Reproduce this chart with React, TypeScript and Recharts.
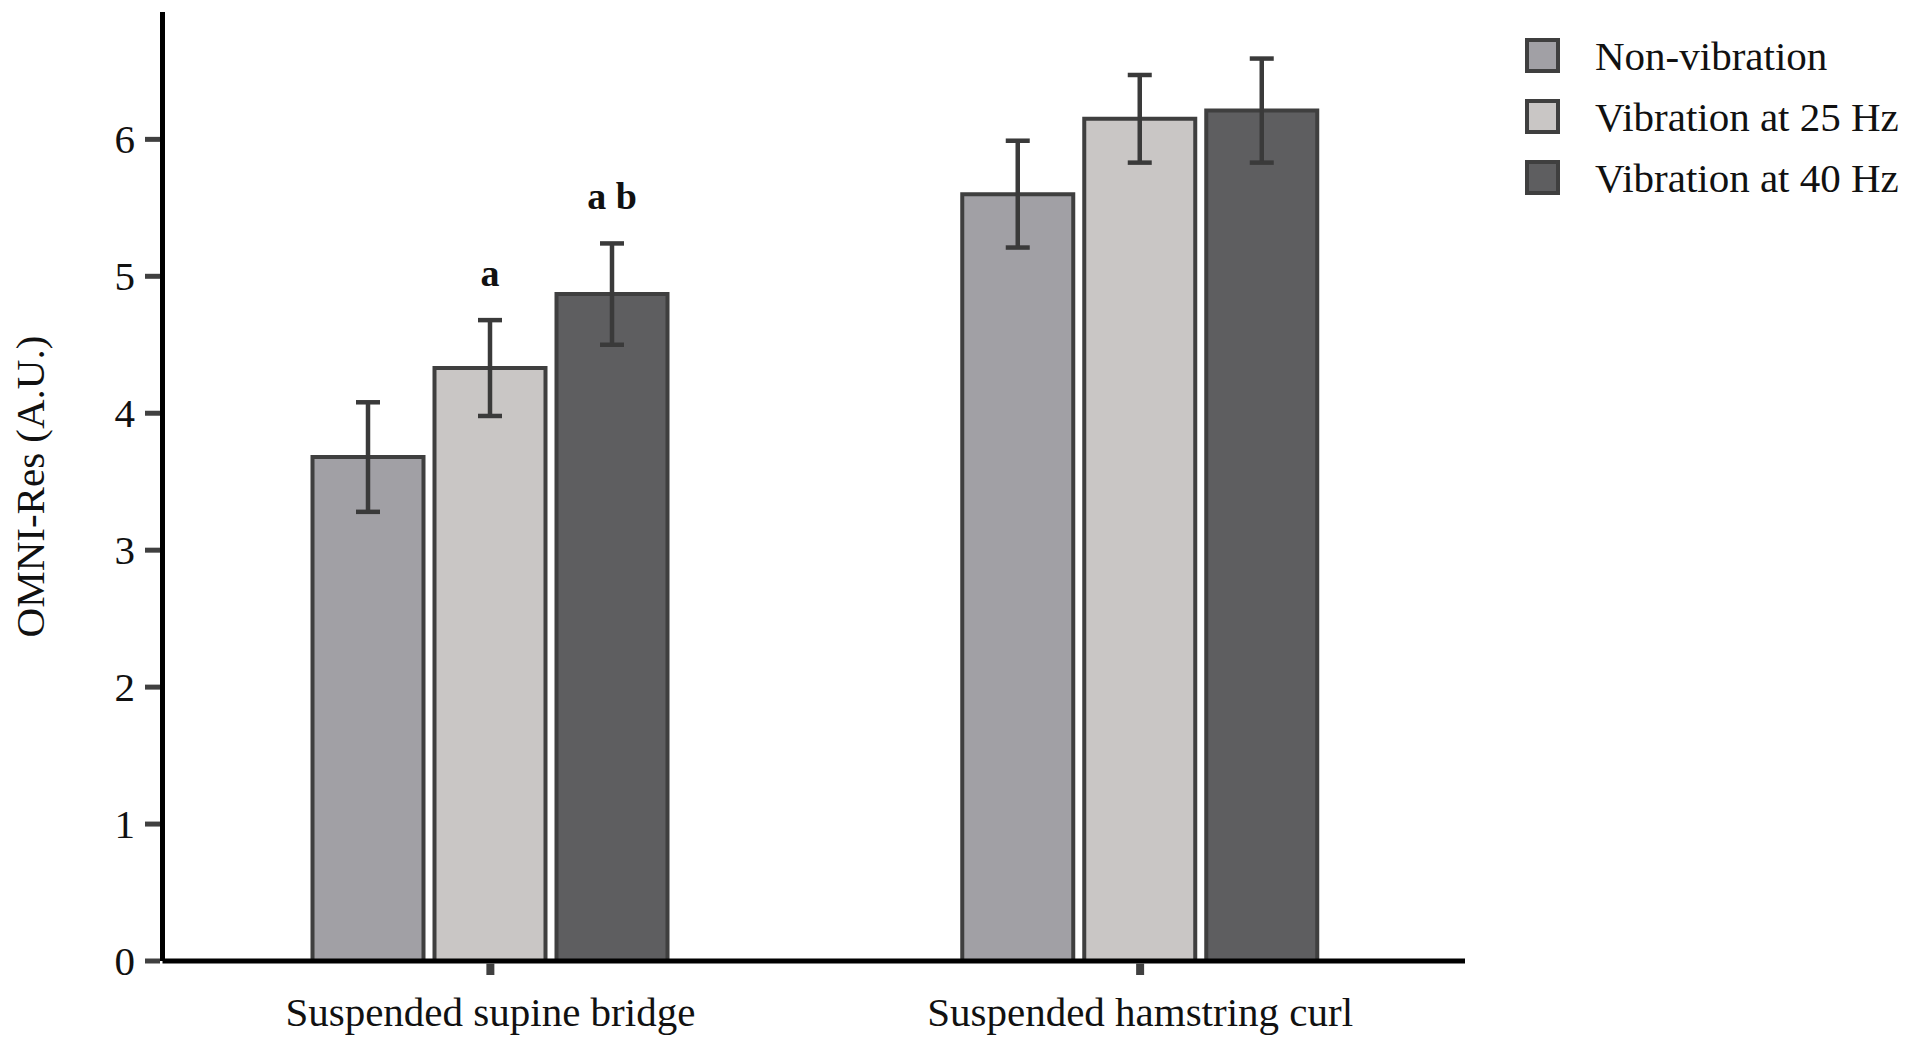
import React from 'react';
import { BarChart, Bar, XAxis, YAxis, ErrorBar, LabelList, Legend } from 'recharts';

const categories = ['Suspended supine bridge', 'Suspended hamstring curl'];
const nonVibration = [3.68, 5.6];
const nonVibrationErr = [0.4, 0.39];
const vib25 = [4.33, 6.15];
const vib25Err = [0.35, 0.32];
const vib40 = [4.87, 6.21];
const vib40Err = [0.37, 0.38];
const sig25 = ['a', ''];
const sig40 = ['a b', ''];
const yTicks = [0, 1, 2, 3, 4, 5, 6];
const seriesNames = ['Non-vibration', 'Vibration at 25 Hz', 'Vibration at 40 Hz'];
const seriesColors = ['#a1a0a5', '#c9c6c5', '#5e5e60'];

const data = categories.map((c, i) => ({
  category: c,
  non: nonVibration[i],
  nonErr: nonVibrationErr[i],
  v25: vib25[i],
  v25Err: vib25Err[i],
  v40: vib40[i],
  v40Err: vib40Err[i],
  s25: sig25[i],
  s40: sig40[i],
}));

const FONT = "'Liberation Serif', 'Times New Roman', serif";
const TEXT = '#111111';
const STROKE = '#3f3f3f';

const YTick = (props: any) => {
  const { x, y, payload } = props;
  return (
    <g>
      <line x1={x - 2.5} x2={x - 17.5} y1={y} y2={y} stroke="#404040" strokeWidth={5} />
      <text x={x - 27.5} y={y + 14} textAnchor="end" fontFamily={FONT} fontSize={41} fill={TEXT}>
        {payload.value}
      </text>
    </g>
  );
};

const XTick = (props: any) => {
  const { x, y, payload } = props;
  return (
    <g>
      <line x1={x} x2={x} y1={y + 2.5} y2={y + 14} stroke="#404040" strokeWidth={8} />
      <text x={x} y={y + 65} textAnchor="middle" fontFamily={FONT} fontSize={41} fill={TEXT}>
        {payload.value}
      </text>
    </g>
  );
};

const makeSig = (values: number[], errs: number[]) => (props: any) => {
  const vb = props.viewBox && props.viewBox.width !== undefined ? props.viewBox : props;
  const { x, y, width, height } = vb;
  const idx = props.index;
  const text = props.value;
  if (!text || idx === undefined) return null;
  const perUnit = Math.abs(height) / values[idx];
  const errTop = y - errs[idx] * perUnit;
  return (
    <text
      x={x + width / 2}
      y={errTop - 34}
      textAnchor="middle"
      fontFamily={FONT}
      fontSize={38}
      fontWeight="bold"
      fill={TEXT}
    >
      {text}
    </text>
  );
};

const LegendContent = () => (
  <div style={{ fontFamily: FONT, color: TEXT }}>
    {seriesNames.map((n, i) => (
      <div key={n} style={{ display: 'flex', alignItems: 'center', height: 35, marginBottom: 26 }}>
        <div
          style={{
            width: 35,
            height: 35,
            boxSizing: 'border-box',
            border: `4px solid ${STROKE}`,
            background: seriesColors[i],
            flex: '0 0 auto',
          }}
        />
        <span style={{ marginLeft: 35, fontSize: 41, lineHeight: 'normal', whiteSpace: 'nowrap' }}>{n}</span>
      </div>
    ))}
  </div>
);

const YLabel = (props: any) => {
  const vb = props.viewBox || {};
  const cy = (vb.y ?? 4) + (vb.height ?? 949) / 2;
  const cx = 22;
  return (
    <text
      x={cx}
      y={cy}
      transform={`rotate(-90, ${cx}, ${cy})`}
      textAnchor="middle"
      dominantBaseline="central"
      fontFamily={FONT}
      fontSize={41}
      fill={TEXT}
    >
      OMNI-Res (A.U.)
    </text>
  );
};

export default function App() {
  return (
    <BarChart
      width={1905}
      height={1039}
      data={data}
      margin={{ top: 4, right: 448, bottom: 0, left: 0 }}
      barGap={11}
    >
      <XAxis
        dataKey="category"
        height={86}
        interval={0}
        tickSize={0}
        tickMargin={0}
        tickLine={false}
        tick={<XTick />}
        padding={{ left: 3, right: 0 }}
        axisLine={{ stroke: '#000', strokeWidth: 5 }}
      />
      <YAxis
        width={154.5}
        domain={[0, 6.93]}
        ticks={yTicks}
        allowDataOverflow
        interval={0}
        tickSize={0}
        tickMargin={0}
        tickLine={false}
        tick={<YTick />}
        axisLine={{ stroke: '#000', strokeWidth: 5 }}
        label={<YLabel />}
      />
      <Legend
        layout="horizontal"
        verticalAlign="middle"
        align="center"
        content={<LegendContent />}
        wrapperStyle={{ top: 30, left: 1517, width: 380, height: 200 }}
      />
      <Bar dataKey="non" name={seriesNames[0]} fill={seriesColors[0]} stroke={STROKE} strokeWidth={4} barSize={111} isAnimationActive={false}>
        <ErrorBar dataKey="nonErr" width={12} strokeWidth={4.5} stroke="#3a3a3a" isAnimationActive={false} />
      </Bar>
      <Bar dataKey="v25" name={seriesNames[1]} fill={seriesColors[1]} stroke={STROKE} strokeWidth={4} barSize={111} isAnimationActive={false}>
        <ErrorBar dataKey="v25Err" width={12} strokeWidth={4.5} stroke="#3a3a3a" isAnimationActive={false} />
        <LabelList dataKey="s25" content={makeSig(vib25, vib25Err)} />
      </Bar>
      <Bar dataKey="v40" name={seriesNames[2]} fill={seriesColors[2]} stroke={STROKE} strokeWidth={4} barSize={111} isAnimationActive={false}>
        <ErrorBar dataKey="v40Err" width={12} strokeWidth={4.5} stroke="#3a3a3a" isAnimationActive={false} />
        <LabelList dataKey="s40" content={makeSig(vib40, vib40Err)} />
      </Bar>
    </BarChart>
  );
}
